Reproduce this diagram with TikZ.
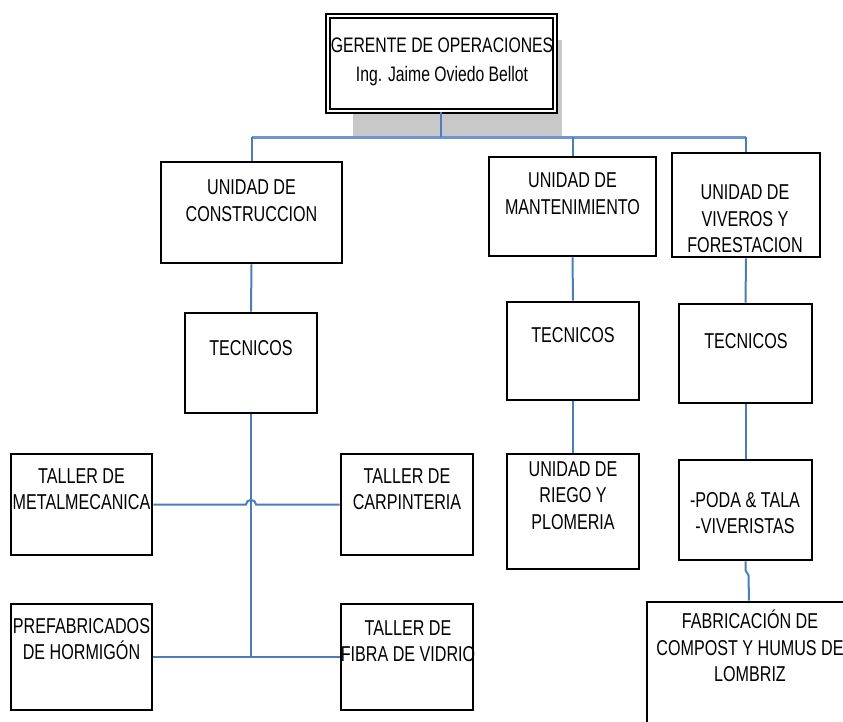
\documentclass[tikz,border=0pt]{standalone}
\usepackage{fontspec}
\setmainfont{Liberation Sans}[FakeStretch = 0.75]
\definecolor{linkblue}{RGB}{74,126,187}
\definecolor{busblue}{RGB}{110,150,208}
\definecolor{shadowgray}{RGB}{200,200,200}
\tikzset{
  box/.style = {draw = black, line width = 2.6pt, fill = white, inner sep = 0pt},
  lbl/.style = {anchor = north, inner sep = 0pt, align = center, font = \fontsize{21.5}{26.5}\selectfont},
  link/.style = {draw = linkblue, line width = 2pt},
  bus/.style = {draw = busblue, line width = 3pt}
}
\begin{document}
\begin{tikzpicture}[x = 1pt, y = -1pt]
\useasboundingbox (0,0) rectangle (843,721);
\fill [shadowgray] (353,40) rectangle (562,137);
\node [box, double, double distance = 2pt, line width = 2pt, minimum width = 227pt, minimum height = 95pt] (ger) at (441,63) {};
\foreach \name/\x/\y/\w/\h in {cons/251.5/212.5/181/101, mant/572.5/206.5/167/99, viv/746/205/148/104,
  tecA/251/363/132/100, tecB/573/351/132/98, tecC/745.5/353.5/133/99,
  metal/81.5/504.5/141/101, carp/407/504.5/132/101, prefab/81.5/657/141/106, fibra/407/657/132/106,
  riego/573/511.5/132/115, poda/745.5/510/133/100, fab/749/681/204/158}
  \node [box, minimum width = \w pt, minimum height = \h pt] (\name) at (\x,\y) {};
\coordinate (bus) at (442,137);
\draw [bus] (cons.north |- bus) -- (viv.north |- bus);
\draw [link] (ger.south) -- (ger.south |- bus);
\foreach \u in {cons, mant, viv} \draw [link] (\u.north |- bus) -- (\u.north);
\draw [link] (cons.south) -- (tecA.north);
\draw [link] (mant.south) -- (tecB.north);
\draw [link] (viv.south) -- (tecC.north);
\draw [link] (tecB.south) -- (riego.north);
\draw [link] (tecC.south) -- (poda.north);
\draw [link] (poda.south) -- ++(0,9) -- ++(3,5) -- (fab.north);
\coordinate (jump) at (tecA.south |- metal.east);
\draw [link] (metal.east) -- ([xshift = -5pt] jump) .. controls +(0,-6) and +(0,-6) .. ([xshift = 5pt] jump) -- (carp.west);
\draw [link] (tecA.south) -- (tecA.south |- prefab.east);
\draw [link] (prefab.east) -- (fibra.west);
\node [lbl, font = \fontsize{21}{29}\selectfont] (ger-t) at (442,38) {GERENTE DE OPERACIONES\\Ing. Jaime Oviedo Bellot};
\foreach \name/\x/\y/\t in {cons/251.5/180/{UNIDAD DE\\CONSTRUCCION}, mant/572.5/173/{UNIDAD DE\\MANTENIMIENTO},
  viv/745/185/{UNIDAD DE\\VIVEROS Y\\FORESTACION}, tecA/251/340/{TECNICOS}, tecB/573/327/{TECNICOS}, tecC/746/333/{TECNICOS},
  metal/81.5/468/{TALLER DE\\METALMECANICA}, carp/407/468/{TALLER DE\\CARPINTERIA},
  prefab/81.5/618/{PREFABRICADOS\\DE HORMIGÓN}, fibra/408/620/{TALLER DE\\FIBRA DE VIDRIO},
  riego/573/461/{UNIDAD DE\\RIEGO Y\\PLOMERIA}, poda/745/492/{-PODA \& TALA\\-VIVERISTAS},
  fab/750/610/{FABRICACIÓN DE\\COMPOST Y HUMUS DE\\LOMBRIZ}}
  \node [lbl] (\name-t) at (\x,\y) {\t};
\end{tikzpicture}
\end{document}
